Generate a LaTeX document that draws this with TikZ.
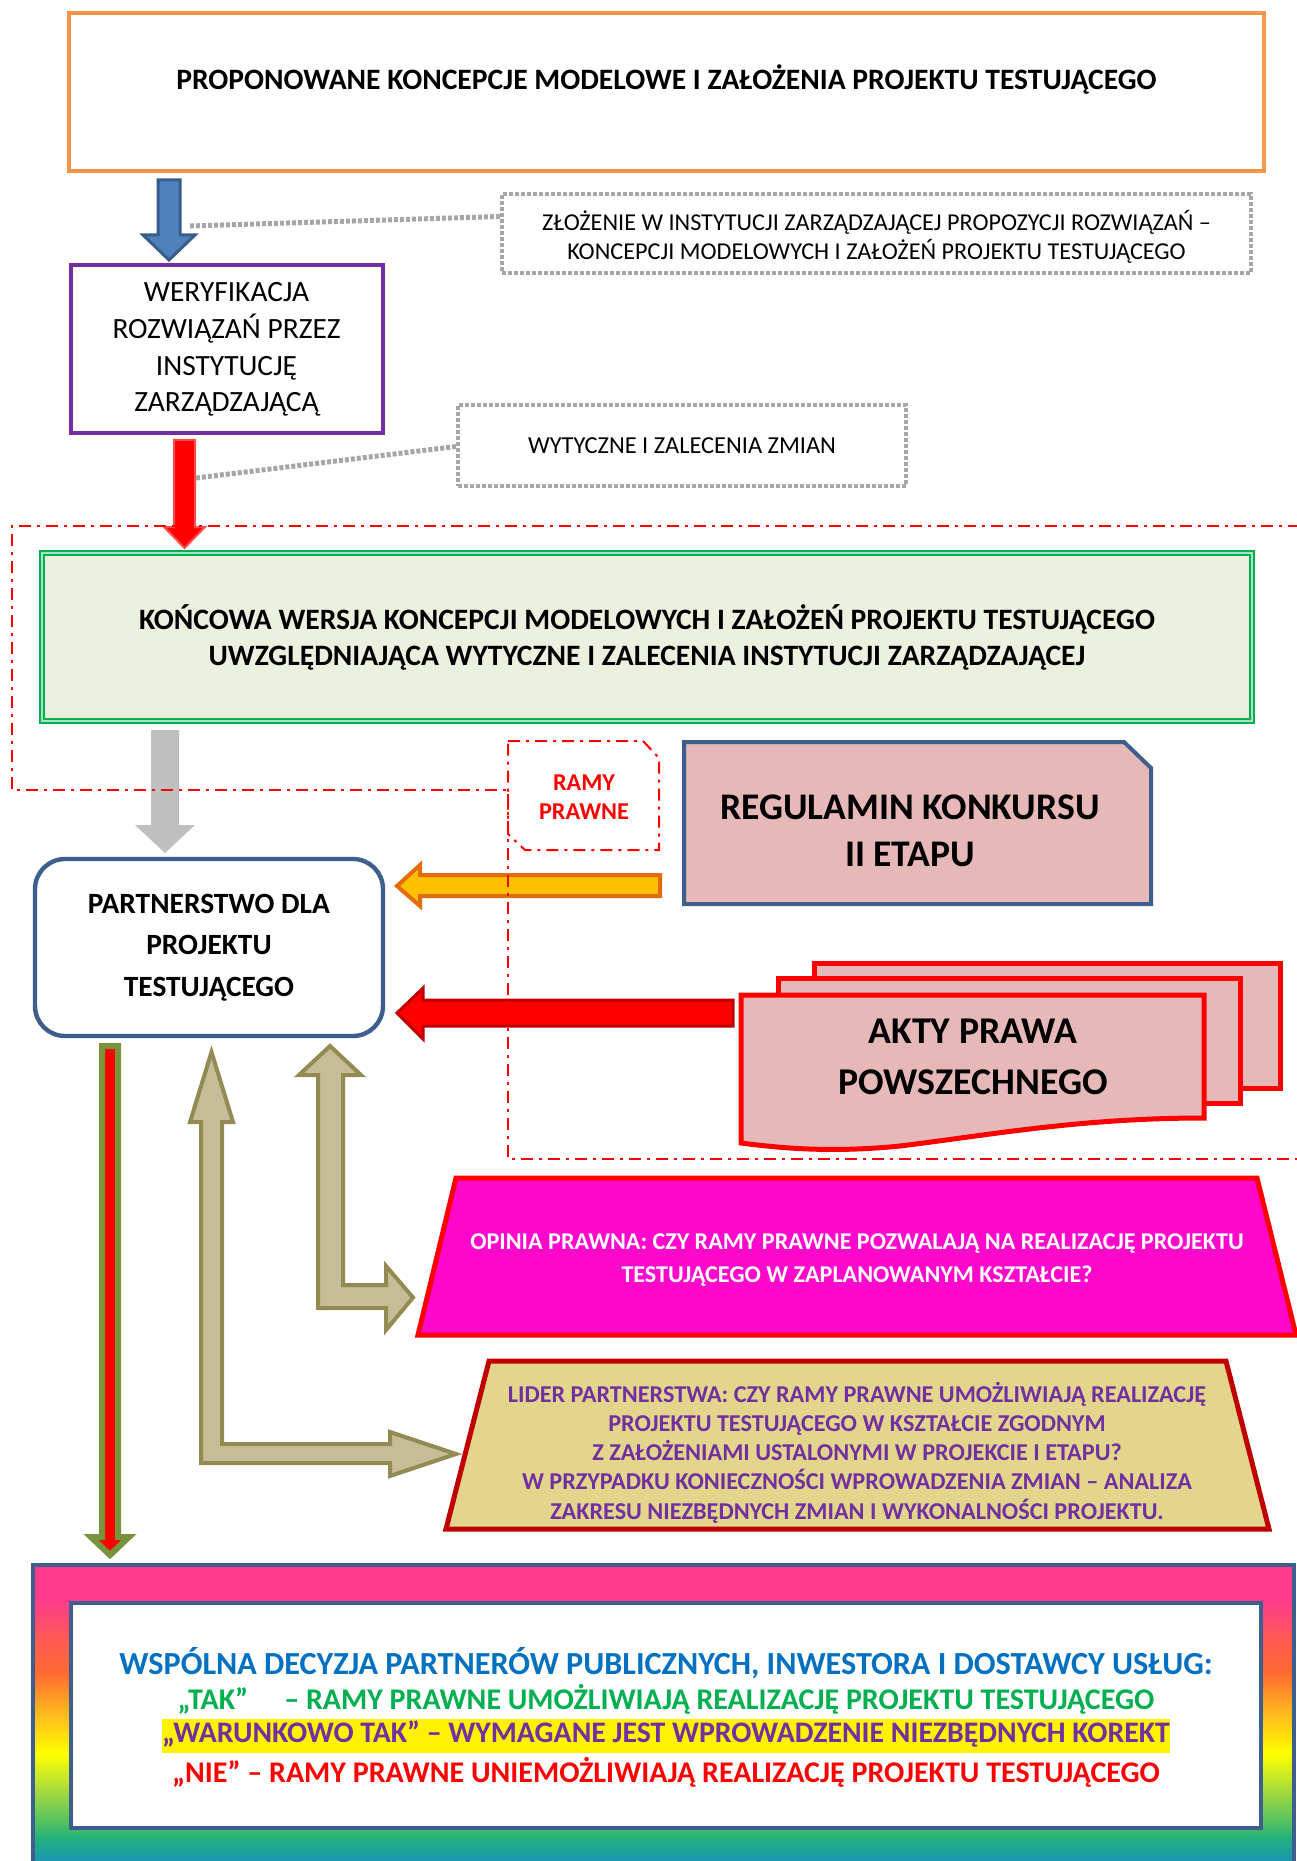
\documentclass[tikz,border=0pt]{standalone}
\usepackage{fontspec}
\setmainfont{Carlito}
\usetikzlibrary{calc}
\definecolor{orangeB}{HTML}{F79646}
\definecolor{blueF}{HTML}{4F81BD}
\definecolor{blueD}{HTML}{385D8A}
\definecolor{greyD}{HTML}{A6A6A6}
\definecolor{purp}{HTML}{7030A0}
\definecolor{fing}{HTML}{EBF1DE}
\definecolor{finb}{HTML}{00B050}
\definecolor{greyA}{HTML}{BFBFBF}
\definecolor{navy}{HTML}{3E5F8E}
\definecolor{pinkbox}{HTML}{E6B9B8}
\definecolor{yelA}{HTML}{FFC000}
\definecolor{orgA}{HTML}{E46C0A}
\definecolor{dred}{HTML}{C00000}
\definecolor{magA}{HTML}{FF08CC}
\definecolor{khakiF}{HTML}{E3D58C}
\definecolor{khA}{HTML}{C4BD97}
\definecolor{khB}{HTML}{948A54}
\definecolor{olive}{HTML}{77933C}
\definecolor{txblue}{HTML}{0070C0}
\definecolor{txgreen}{HTML}{00B050}
\definecolor{rbA}{HTML}{1A8CC8}
\definecolor{rbB}{HTML}{20B080}
\definecolor{rbC}{HTML}{50C060}
\definecolor{rbD}{HTML}{A0D840}
\definecolor{rbE}{HTML}{FFFF00}
\definecolor{rbF}{HTML}{FFB020}
\definecolor{rbG}{HTML}{FF6A30}
\definecolor{rbH}{HTML}{FF5A50}
\definecolor{rbI}{HTML}{FF3C8C}
\pgfdeclareverticalshading{rainbowsh}{100bp}{color(0bp)=(rbA); color(25bp)=(rbA); color(30bp)=(rbB); color(32.7bp)=(rbC); color(37.6bp)=(rbD); color(44.1bp)=(rbE); color(51.6bp)=(rbF); color(57.2bp)=(rbG); color(62.6bp)=(rbH); color(69.1bp)=(rbI); color(75bp)=(rbI); color(100bp)=(rbI)}
\tikzset{
  dotbox/.style={draw=greyD, line width=2pt, dash pattern=on 2pt off 1pt},
  dotline/.style={draw=greyD, line width=2.5pt, dash pattern=on 2pt off 1pt},
  ddot/.style={draw=red, line width=1pt, dash pattern=on 6pt off 3pt on 1.5pt off 3pt},
  khakiarrow/.style={fill=khA, draw=khB, line width=2pt, line join=miter},
}
\begin{document}
\begin{tikzpicture}[x=0.5pt,y=-0.5pt]
\useasboundingbox (0,0) rectangle (1296,1861);
\fill[white] (0,0) rectangle (1296,1861);

% top box
\node[draw=orangeB, line width=2pt, minimum width=597.5pt, minimum height=79pt, inner sep=0pt] (top) at (666.5,92) {};
\node[font=\bfseries\fontsize{14.8}{14.8}\selectfont, inner sep=0pt] (topt) at (666.5,80) {PROPONOWANE KONCEPCJE MODELOWE I ZAŁOŻENIA PROJEKTU TESTUJĄCEGO};

% blue arrow
\draw[fill=blueF, draw=blueD, line width=1.5pt] (158,180) -- (180,180) -- (180,235) -- (195,235) -- (169,260) -- (143,235) -- (158,235) -- cycle;
\coordinate (c1) at (190,226);

% dotted box 1
\node[dotbox, minimum width=374.5pt, minimum height=39.5pt, inner sep=0pt] (zl) at (876.5,233.5) {};
\node[align=center, inner sep=0pt, font=\fontsize{12.1}{14.5}\selectfont] (zlt) at (876.5,236.5) {ZŁOŻENIE W INSTYTUCJI ZARZĄDZAJĄCEJ PROPOZYCJI ROZWIĄZAŃ –\\KONCEPCJI MODELOWYCH I ZAŁOŻEŃ PROJEKTU TESTUJĄCEGO};
\draw[dotline] (c1) -- ($(zl.west)+(0,-17)$);

% purple box
\node[draw=purp, line width=2pt, minimum width=156pt, minimum height=84pt, inner sep=0pt, align=center, font=\fontsize{14.7}{18.4}\selectfont] (ver) at (226.5,349.5) {WERYFIKACJA\\ROZWIĄZAŃ PRZEZ\\INSTYTUCJĘ\\ZARZĄDZAJĄCĄ};

% red arrow 1
\draw[fill=red, draw=red!70, line width=1pt] (174,440) -- (195,440) -- (195,527) -- (205,527) -- (184.5,548) -- (164,527) -- (174,527) -- cycle;
\coordinate (c2) at (196,478);

% dotted box 2
\node[dotbox, minimum width=224pt, minimum height=40.5pt, inner sep=0pt, font=\fontsize{12.2}{14}\selectfont] (wyt) at (682,445.5) {WYTYCZNE I ZALECENIA ZMIAN};
\draw[dotline] (c2) -- ($(wyt.west)+(0,1)$);

% final green box
\node[fill=fing, draw=finb, double=finb!35, double distance=1.2pt, line width=0.8pt, minimum width=605pt, minimum height=84pt, inner sep=0pt, align=center, font=\bfseries\fontsize{14.8}{18}\selectfont] (fin) at (647,637) {KOŃCOWA WERSJA KONCEPCJI MODELOWYCH I ZAŁOŻEŃ PROJEKTU TESTUJĄCEGO\\UWZGLĘDNIAJĄCA WYTYCZNE I ZALECENIA INSTYTUCJI ZARZĄDZAJĄCEJ};

% grey arrow
\fill[greyA] (151,730) -- (179,730) -- (179,825) -- (195,825) -- (165,853) -- (135,825) -- (151,825) -- cycle;

% partnerstwo
\node[draw=navy, fill=white, line width=2.2pt, rounded corners=15pt, minimum width=174pt, minimum height=88.5pt, inner sep=0pt, align=center, font=\bfseries\fontsize{14.7}{20.75}\selectfont] (part) at (209,947.5) {PARTNERSTWO DLA\\PROJEKTU\\TESTUJĄCEGO};

% regulamin
\draw[fill=pinkbox, draw=navy, line width=2pt, line join=miter] (684,742) -- (1124,742) -- (1151,768) -- (1151,904) -- (684,904) -- cycle;
\node[font=\bfseries\fontsize{18.8}{23.5}\selectfont, align=center, inner sep=0pt] (reg) at (910,831) {REGULAMIN KONKURSU\\II ETAPU};

% ramy prawne
\draw[ddot] (508,741) -- (643,741) -- (659,758) -- (659,850) -- (525,850) -- (508,834) -- cycle;
\node[font=\bfseries\fontsize{12.1}{14.5}\selectfont, text=red, align=center, inner sep=0pt] (ramy) at (584,797) {RAMY\\PRAWNE};

% akty prawa (multi document)
\draw[fill=pinkbox, draw=red, line width=2.5pt, line join=miter] (814,963) rectangle (1280,1088);
\draw[fill=pinkbox, draw=red, line width=2.5pt, line join=miter] (778,978) rectangle (1240,1103);
\draw[fill=pinkbox, draw=red, line width=2.5pt, line join=miter] (741,995) -- (1204,995) -- (1204,1118) .. controls (1080,1118) and (990,1135) .. (900,1146) .. controls (830,1153) and (780,1148) .. (741,1143) -- cycle;
\node[font=\bfseries\fontsize{18.9}{25.5}\selectfont, align=center, inner sep=0pt] (akty) at (973,1057) {AKTY PRAWA\\POWSZECHNEGO};

% orange arrow
\draw[fill=yelA, draw=orgA, line width=2pt, line join=miter] (660,875) -- (420,875) -- (420,865) -- (397,886) -- (420,906) -- (420,896) -- (660,896) -- cycle;

% red arrow 2
\draw[fill=red, draw=dred, line width=1.5pt, line join=miter] (733,1000) -- (423,1000) -- (423,988) -- (397,1013) -- (423,1039) -- (423,1026) -- (733,1026) -- cycle;

% opinia
\draw[fill=magA, draw=red, line width=2.5pt, line join=miter] (456,1178) -- (1257,1178) -- (1296,1335) -- (418,1335) -- cycle;
\node[font=\bfseries\fontsize{12.05}{16.5}\selectfont, text=white, align=center, inner sep=0pt] (opin) at (857,1260) {OPINIA PRAWNA: CZY RAMY PRAWNE POZWALAJĄ NA REALIZACJĘ PROJEKTU\\TESTUJĄCEGO W ZAPLANOWANYM KSZTAŁCIE?};

% lider
\draw[fill=khakiF, draw=dred, line width=2.5pt, line join=miter] (489,1361) -- (1226,1361) -- (1269,1529) -- (446,1529) -- cycle;
\node[font=\bfseries\fontsize{12.1}{14.6}\selectfont, text=purp, align=center, inner sep=0pt] (lid) at (857,1452.5) {LIDER PARTNERSTWA: CZY RAMY PRAWNE UMOŻLIWIAJĄ REALIZACJĘ\\PROJEKTU TESTUJĄCEGO W KSZTAŁCIE ZGODNYM\\Z ZAŁOŻENIAMI USTALONYMI W PROJEKCIE I ETAPU?\\W PRZYPADKU KONIECZNOŚCI WPROWADZENIA ZMIAN – ANALIZA\\ZAKRESU NIEZBĘDNYCH ZMIAN I WYKONALNOŚCI PROJEKTU.};

% khaki arrow A (to opinia)
\draw[khakiarrow] (330,1046) -- (361,1075) -- (343,1075) -- (343,1285) -- (386,1285) -- (386,1266) -- (413,1297.5) -- (386,1330) -- (386,1308) -- (318,1308) -- (318,1075) -- (299,1075) -- cycle;
% khaki arrow B (to lider)
\draw[khakiarrow] (211.5,1052) -- (233,1122) -- (222,1122) -- (222,1444) -- (390,1444) -- (390,1432) -- (456,1454) -- (390,1476) -- (390,1463) -- (201,1463) -- (201,1122) -- (190,1122) -- cycle;

% green/red down arrow
\draw[fill=red, draw=olive, line width=3pt, line join=miter] (102,1046) -- (118,1046) -- (118,1537) -- (129,1537) -- (110,1555) -- (91,1537) -- (102,1537) -- cycle;

% legal framework region (dash-dot)
\draw[ddot] (1300,526) -- (12,526) -- (12,790) -- (508,790) -- (508,1159) -- (1300,1159);

% bottom decision box
\draw[shading=rainbowsh, draw=navy, line width=2pt] (33,1565) rectangle (1294,1870);
\node[draw=navy, fill=white, line width=2.2pt, minimum width=595pt, minimum height=112.5pt, inner sep=0pt] (dec) at (666,1715.5) {};
\node[font=\bfseries\fontsize{16.1}{16.1}\selectfont, text=txblue, inner sep=0pt] (d1) at (666,1663) {WSPÓLNA DECYZJA PARTNERÓW PUBLICZNYCH, INWESTORA I DOSTAWCY USŁUG:};
\node[font=\bfseries\fontsize{15}{15}\selectfont, text=txgreen, inner sep=0pt] (d2) at (666,1699) {„TAK”\hspace{18pt}– RAMY PRAWNE UMOŻLIWIAJĄ REALIZACJĘ PROJEKTU TESTUJĄCEGO};
\node[font=\bfseries\fontsize{14.9}{14.9}\selectfont, text=purp, fill=yellow, inner xsep=0pt, text height=12pt, text depth=5pt, inner ysep=0pt] (d3) at (666,1735.5) {„WARUNKOWO TAK” – WYMAGANE JEST WPROWADZENIE NIEZBĘDNYCH KOREKT};
\node[font=\bfseries\fontsize{15}{15}\selectfont, text=red, inner sep=0pt] (d4) at (666,1772) {„NIE” – RAMY PRAWNE UNIEMOŻLIWIAJĄ REALIZACJĘ PROJEKTU TESTUJĄCEGO};
\end{tikzpicture}
\end{document}
